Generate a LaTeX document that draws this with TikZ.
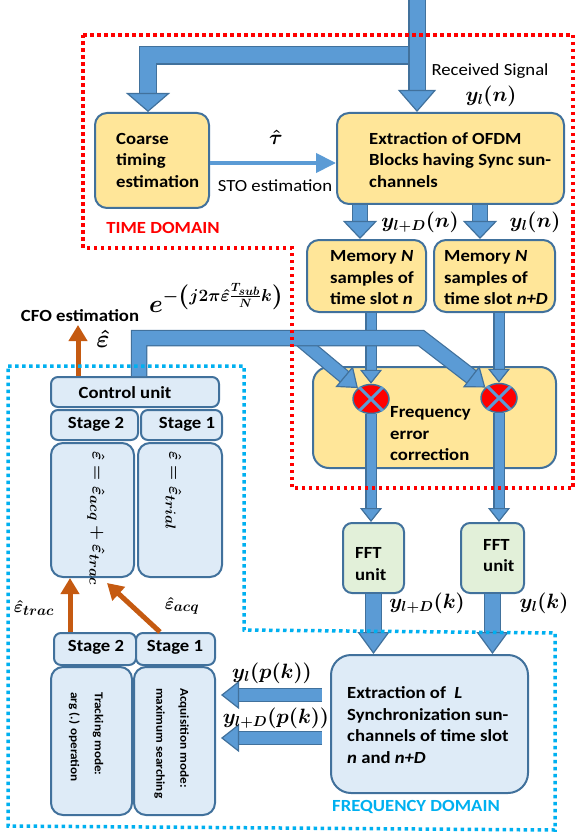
\documentclass[tikz,border=0pt]{standalone}
\usepackage{amsmath}
\usepackage{fontspec}
\setmainfont{Carlito}[FakeStretch=1.1]
\usetikzlibrary{arrows.meta,shapes.geometric,calc}
\definecolor{yfill}{HTML}{FFE699}
\definecolor{lbfill}{HTML}{DEEBF7}
\definecolor{gfill}{HTML}{E2F0D9}
\definecolor{boxedge}{HTML}{41719C}
\definecolor{afill}{HTML}{5B9BD5}
\definecolor{aedge}{HTML}{41719C}
\definecolor{orng}{HTML}{C55A11}
\definecolor{cyanc}{HTML}{00B0F0}
\tikzset{
  box/.style={draw=boxedge, line width=2pt, rounded corners=12pt, inner sep=0pt},
  ybox/.style={box, fill=yfill},
  bbox/.style={box, fill=lbfill},
  gbox/.style={box, fill=gfill},
  sbox/.style={box, fill=lbfill, rounded corners=7pt},
  txt/.style={font=\bfseries\fontsize{17}{21.5}\selectfont, align=left, inner sep=0pt, anchor=west},
  ctxt/.style={txt, anchor=center, align=center},
  plain/.style={font=\fontsize{17}{21.5}\selectfont, inner sep=0pt},
  rtxt/.style={font=\bfseries\fontsize{12}{24}\selectfont, align=left, rotate=-90, anchor=west, inner sep=0pt},
  rmath/.style={font=\fontsize{19}{20}\selectfont\boldmath, rotate=-90, anchor=west, inner sep=0pt},
  mlab/.style={font=\fontsize{20}{24}\selectfont\boldmath, inner sep=0pt},
  barrow/.style n args={5}{draw=afill, line width=#1,
     -{Triangle[width=#3,length=#4,fill=afill,color=aedge,line width=1.2pt]},
     preaction={draw=aedge, line width=#2, -, shorten >=#5}},
  sto/.style={draw=afill, line width=4pt, -{Triangle[width=19pt,length=20pt]}},
  oarrow/.style={draw=orng, line width=5pt, -{Triangle[width=18pt,length=16pt]}},
  mult/.style={ellipse, draw=aedge, line width=1.5pt, fill=red, minimum width=36pt, minimum height=29pt, inner sep=0pt},
  crossl/.style={draw=afill, line width=3pt},
  reddot/.style={draw=red, line width=3.5pt, dash pattern=on 3.5pt off 3.5pt},
  bluedot/.style={draw=cyanc, line width=3.5pt, dash pattern=on 3.5pt off 3.5pt},
}
\begin{document}
\begin{tikzpicture}[x=1pt,y=-1pt,line join=miter]
\useasboundingbox (0,0) rectangle (576,834);

% ---------- boxes ----------
\node[ybox, minimum width=114pt, minimum height=95pt] (coarse) at (152,160.5) {};
\node[ybox, minimum width=227pt, minimum height=91pt] (ext1) at (450.5,158.5) {};
\node[ybox, minimum width=119pt, minimum height=72pt] (mem1) at (366.5,276) {};
\node[ybox, minimum width=121pt, minimum height=72pt] (mem2) at (494.5,276) {};
\node[ybox, minimum width=243pt, minimum height=101pt, rounded corners=16pt] (fec) at (434.5,417.5) {};
\node[gbox, minimum width=61pt, minimum height=70pt, rounded corners=9pt] (fft1) at (373.5,558) {};
\node[gbox, minimum width=63pt, minimum height=70pt, rounded corners=9pt] (fft2) at (492.5,558) {};
\node[bbox, minimum width=197pt, minimum height=138pt, rounded corners=20pt] (ext2) at (429.5,724) {};
\node[sbox, minimum width=168pt, minimum height=30pt] (ctrl) at (135,392) {};
\node[sbox, minimum width=87pt, minimum height=30pt] (st2a) at (94.5,425) {};
\node[sbox, minimum width=81pt, minimum height=30pt] (st1a) at (181.5,425) {};
\node[bbox, minimum width=83pt, minimum height=134pt] (eqa) at (92.5,510) {};
\node[bbox, minimum width=84pt, minimum height=134pt] (eqb) at (180,510) {};
\node[sbox, minimum width=82pt, minimum height=32pt] (st2b) at (95,649) {};
\node[sbox, minimum width=79pt, minimum height=32pt] (st1b) at (175.5,649) {};
\node[bbox, minimum width=81pt, minimum height=148pt] (trk) at (91.5,741) {};
\node[bbox, minimum width=81pt, minimum height=148pt] (acq) at (174.5,741) {};

% multipliers (positions)
\coordinate (m1c) at (371,399);
\coordinate (m2c) at (499,398);

% ---------- input arrows ----------
\coordinate (in) at (417,0);
\coordinate (brj) at (417,55.5);
\coordinate (brl) at (148,55.5);
\draw[barrow={16pt}{18.5pt}{44pt}{19pt}{17pt}] (brj) -- (brl) -- (brl |- coarse.north);
\draw[barrow={15pt}{17.5pt}{38pt}{22pt}{20pt}] (in) -- (in |- ext1.north);

% STO arrow
\draw[sto] (coarse.east |- 0,163) -- (ext1.west |- 0,163);

% ext1 -> memories
\draw[barrow={14pt}{16.5pt}{34pt}{18pt}{16pt}] (ext1.south -| 360,0) -- (mem1.north -| 360,0);
\draw[barrow={14pt}{16.5pt}{34pt}{18pt}{16pt}] (ext1.south -| 480,0) -- (mem2.north -| 480,0);

% multipliers
\node[mult] (mul1) at (m1c) {};
\node[mult] (mul2) at (m2c) {};
\draw[crossl] (mul1.45) -- (mul1.225) (mul1.135) -- (mul1.315);
\draw[crossl] (mul2.45) -- (mul2.225) (mul2.135) -- (mul2.315);

% memories -> multipliers
\draw[barrow={9pt}{11.5pt}{22pt}{14pt}{12pt}] (mem1.south -| mul1.north) -- (mul1.north);
\draw[barrow={9pt}{11.5pt}{22pt}{14pt}{12pt}] (mem2.south -| mul2.north) -- (mul2.north);

% correction bar from control unit
\coordinate (cb1) at (139,338);
\coordinate (cb2) at (421,338);
\coordinate (cbd) at (298,338);
\draw[barrow={12pt}{14.5pt}{27pt}{18pt}{16pt}] (cbd) -- (mul1);
\draw[barrow={14pt}{16.5pt}{27pt}{18pt}{16pt}] (ctrl.north -| cb1) -- (cb1) -- (cb2) -- (mul2);

% multipliers -> FFT
\draw[barrow={9pt}{11.5pt}{22pt}{14pt}{12pt}] (mul1.south) -- (mul1.south |- fft1.north);
\draw[barrow={9pt}{11.5pt}{22pt}{14pt}{12pt}] (mul2.south) -- (mul2.south |- fft2.north);

% FFT -> ext2
\draw[barrow={15pt}{17.5pt}{32pt}{22pt}{20pt}] (fft1.south) -- (fft1.south |- ext2.north);
\draw[barrow={15pt}{17.5pt}{32pt}{22pt}{20pt}] (fft2.south) -- (fft2.south |- ext2.north);

% ext2 -> acquisition
\draw[barrow={12pt}{14.5pt}{28pt}{18pt}{16pt}] ($(ext2.west |- 0,695)+(-8,0)$) -- ($(acq.east |- 0,695)+(5,0)$);
\draw[barrow={12pt}{14.5pt}{28pt}{18pt}{16pt}] ($(ext2.west |- 0,738)+(-8,0)$) -- ($(acq.east |- 0,738)+(5,0)$);

% orange arrows
\coordinate (cfo) at (78,325);
\draw[oarrow] (ctrl.north -| cfo) -- (cfo);
\draw[oarrow] (st2b.north -| 70,0) -- (eqa.south -| 70,0);
\coordinate (acqtip) at (107,583);
\draw[oarrow] (st1b.north -| 160,0) -- (acqtip);

% ---------- texts ----------
\node[txt] (coarseT) at (116,160) {Coarse\\timing\\estimation};
\node[txt] (ext1T) at (369,160) {Extraction of OFDM\\Blocks having Sync sun-\\channels};
\node[txt] (mem1T) at (330,278) {Memory \textit{N}\\samples of\\time slot \textit{n}};
\node[txt] (mem2T) at (444,278) {Memory \textit{N}\\samples of\\time slot \textit{n+D}};
\node[txt] (fecT) at (390,434) {Frequency\\error\\correction};
\node[txt] (fft1T) at (355,564) {FFT\\unit};
\node[txt] (fft2T) at (483,555.5) {FFT\\unit};
\node[txt] (ext2T) at (347,725) {Extraction of\ \ \textit{L}\\Synchronization sun-\\channels of time slot\\\textit{n} and \textit{n+D}};
\node[ctxt] (ctrlT) at (125,393) {Control unit};
\node[ctxt] (st2aT) at (96,424) {Stage 2};
\node[ctxt] (st1aT) at (187,424) {Stage 1};
\node[ctxt] (st2bT) at (96,647) {Stage 2};
\node[ctxt] (st1bT) at (175,647) {Stage 1};
\node[rtxt] (trkT) at (86,692) {Tracking mode:\\arg (.) operation};
\node[rtxt] (acqT) at (171.5,688) {Acquisition mode:\\maximum searching};
\node[rmath] (eqaT) at (96,451) {$\hat{\varepsilon}=\hat{\varepsilon}_{acq}+\hat{\varepsilon}_{trac}$};
\node[rmath] (eqbT) at (173.5,451) {$\hat{\varepsilon}=\hat{\varepsilon}_{trial}$};

\node[plain] (rsT) at (490,71) {Received Signal};
\node[plain] (stoT) at (275,186) {STO estimation};
\node[ctxt] (cfoT) at (80,316) {CFO estimation};
\node[ctxt, text=red] (tdT) at (163,228) {TIME DOMAIN};
\node[ctxt, text=cyanc] (fdT) at (416,807) {FREQUENCY DOMAIN};

% math labels
\node[mlab] (l1) at (491,96) {$y_{l}(n)$};
\node[mlab, font=\fontsize{22}{24}\selectfont\boldmath] (tau) at (276,137) {$\hat{\tau}$};
\node[mlab] (l2) at (420,222) {$y_{l+D}(n)$};
\node[mlab] (l3) at (535,222) {$y_{l}(n)$};
\node[mlab, font=\fontsize{24}{28}\selectfont\boldmath, anchor=base west] (expo) at (149,312) {$e^{-\left(j2\pi\hat{\varepsilon}\frac{T_{sub}}{N}k\right)}$};
\node[mlab, font=\fontsize{24}{28}\selectfont\boldmath] (epsT) at (103,339) {$\hat{\varepsilon}$};
\node[mlab] (l4) at (427,603) {$y_{l+D}(k)$};
\node[mlab] (l5) at (544,603) {$y_{l}(k)$};
\node[mlab] (l6) at (272,673) {$y_{l}(p(k))$};
\node[mlab] (l7) at (276,718) {$y_{l+D}(p(k))$};
\node[mlab, font=\fontsize{19}{24}\selectfont\boldmath] (etr) at (34,608) {$\hat{\varepsilon}_{trac}$};
\node[mlab, font=\fontsize{19}{24}\selectfont\boldmath] (eac) at (182,606) {$\hat{\varepsilon}_{acq}$};

% ---------- domain boundaries ----------
\draw[reddot] (83,35) -- (573,35) -- (573,488) -- (292,488) -- (292,248) -- (83,248) -- cycle;
\draw[bluedot] (8,366) -- (244,366) -- (244,630) -- (555,633) -- (555,830) -- (8,826) -- cycle;
\end{tikzpicture}
\end{document}
